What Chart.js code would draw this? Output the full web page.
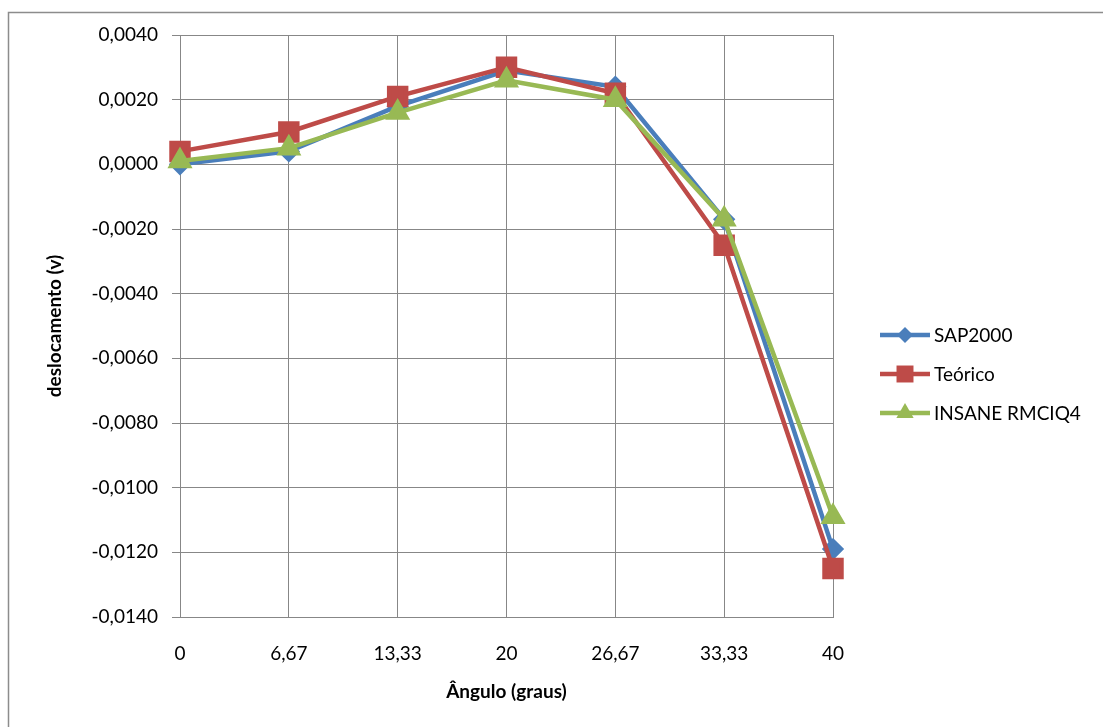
<!DOCTYPE html>
<html>
<head>
<meta charset="utf-8">
<script src="https://cdn.jsdelivr.net/npm/chart.js@4"></script>
<style>
  body { margin: 0; background: #fff; }
</style>
</head>
<body>
<canvas id="lineChart" width="1103" height="727"></canvas>
<script>
// angulos (graus)
const labels = ["0", "6,67", "13,33", "20", "26,67", "33,33", "40"];
const sap2000 = [0.0000, 0.0004, 0.0018, 0.0029, 0.0024, -0.0017, -0.0119];
const teorico = [0.0004, 0.0010, 0.0021, 0.0030, 0.0022, -0.0025, -0.0125];
const insane = [0.0001, 0.0005, 0.0016, 0.0026, 0.0020, -0.0017, -0.0109];

const gridColor = '#878787';
const fontFamily = 'Lato, "Open Sans", sans-serif';

// fundo + moldura
const frame = {
    id: 'frame',
    beforeDraw(chart) {
        const ctx = chart.ctx;
        ctx.save();
        ctx.fillStyle = '#fff';
        ctx.fillRect(0, 0, chart.width, chart.height);
        ctx.strokeStyle = '#8c8c8c';
        ctx.lineWidth = 1.5;
        ctx.strokeRect(8.5, 12.5, chart.width + 20, chart.height + 20);
        ctx.restore();
    }
};

function marker(ctx, style, x, y, r) {
    ctx.beginPath();
    if (style === 'rectRot') {
        ctx.moveTo(x, y - r); ctx.lineTo(x + r, y); ctx.lineTo(x, y + r); ctx.lineTo(x - r, y);
    } else if (style === 'rect') {
        let s = r * Math.SQRT1_2;
        ctx.rect(x - s, y - s, 2 * s, 2 * s);
    } else {
        ctx.moveTo(x, y - r);
        ctx.lineTo(x + r * Math.sin(Math.PI / 3), y + r / 2);
        ctx.lineTo(x - r * Math.sin(Math.PI / 3), y + r / 2);
    }
    ctx.closePath();
    ctx.fill();
}

// legenda a direita
const sideLegend = {
    id: 'sideLegend',
    afterDraw(chart) {
        const ctx = chart.ctx;
        let y = 335;
        ctx.save();
        chart.data.datasets.forEach(ds => {
            ctx.strokeStyle = ds.borderColor;
            ctx.fillStyle = ds.backgroundColor;
            ctx.lineWidth = ds.borderWidth;
            ctx.beginPath();
            ctx.moveTo(880, y);
            ctx.lineTo(930, y);
            ctx.stroke();
            marker(ctx, ds.pointStyle, 905, y, ds.pointRadius);
            ctx.fillStyle = '#000';
            ctx.font = '19px ' + fontFamily;
            ctx.textBaseline = 'middle';
            ctx.fillText(ds.label, 934, y + 1);
            y += 39;
        });
        ctx.restore();
    }
};

const ctx = document.getElementById('lineChart').getContext('2d');

new Chart(ctx, {
    type: 'line',
    data: {
        labels: labels,
        datasets: [
            {
                label: 'SAP2000',
                data: sap2000,
                borderColor: '#4A7EBB',
                backgroundColor: '#4A7EBB',
                borderWidth: 4.5,
                pointStyle: 'rectRot',
                pointRadius: 8,
                order: 3
            },
            {
                label: 'Teórico',
                data: teorico,
                borderColor: '#BE4B48',
                backgroundColor: '#BE4B48',
                borderWidth: 4.5,
                pointStyle: 'rect',
                pointRadius: 12,
                order: 2
            },
            {
                label: 'INSANE RMCIQ4',
                data: insane,
                borderColor: '#98B954',
                backgroundColor: '#98B954',
                borderWidth: 4.5,
                pointStyle: 'triangle',
                pointRadius: 10,
                order: 1
            }
        ]
    },
    options: {
        responsive: false,
        animation: false,
        layout: {
            padding: { top: 35, right: 270, bottom: 0, left: 0 }
        },
        plugins: {
            legend: false,
            tooltip: { enabled: false }
        },
        elements: {
            line: { tension: 0 },
            point: { borderWidth: 0 }
        },
        scales: {
            x: {
                offset: false,
                afterFit: (scale) => { scale.height = 110; },
                grid: { color: gridColor, drawTicks: false },
                border: { color: gridColor },
                ticks: {
                    color: '#000',
                    padding: 25,
                    maxRotation: 0,
                    font: { family: fontFamily, size: 19 }
                },
                title: {
                    display: true,
                    text: 'Ângulo (graus)',
                    color: '#000',
                    padding: { top: 0, bottom: 24 },
                    font: { family: fontFamily, size: 19, weight: 'bold' }
                }
            },
            y: {
                min: -0.014,
                max: 0.004,
                afterFit: (scale) => { scale.width = 180; },
                grid: { color: gridColor, tickLength: 8 },
                border: { color: gridColor },
                ticks: {
                    stepSize: 0.002,
                    color: '#000',
                    padding: 14,
                    font: { family: fontFamily, size: 19 },
                    callback: (v) => v.toFixed(4).replace('.', ',')
                },
                title: {
                    display: true,
                    text: 'deslocamento (v)',
                    color: '#000',
                    padding: { top: 43, bottom: 0 },
                    font: { family: fontFamily, size: 19, weight: 'bold' }
                }
            }
        }
    },
    plugins: [frame, sideLegend]
});
</script>
</body>
</html>
